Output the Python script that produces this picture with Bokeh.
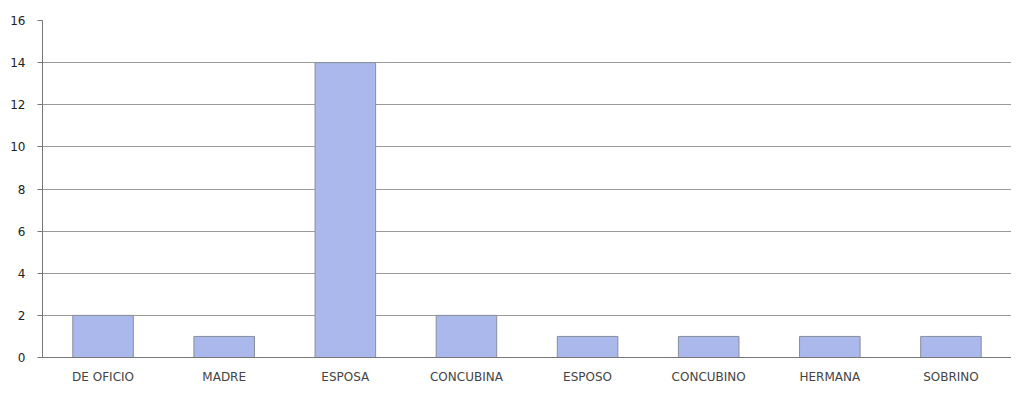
from bokeh.plotting import figure
from bokeh.models import ColumnDataSource, FactorRange, Range1d, FixedTicker
from bokeh.embed import file_html
from bokeh.resources import INLINE

categories = ["DE OFICIO", "MADRE", "ESPOSA", "CONCUBINA", "ESPOSO", "CONCUBINO", "HERMANA", "SOBRINO"]
values = [2, 1, 14, 2, 1, 1, 1, 1]
y_ticks = [0, 2, 4, 6, 8, 10, 12, 14, 16]

source = ColumnDataSource(data=dict(cat=categories, val=values))

p = figure(
    x_range=FactorRange(*categories, range_padding=0),
    y_range=Range1d(0, 16),
    width=1011, height=386,
    output_backend="svg", toolbar_location=None,
    min_border_left=42, min_border_right=0, min_border_top=20, min_border_bottom=10,
)
p.vbar(x="cat", top="val", width=0.5, source=source,
       fill_color="#aab8ec", line_color="#8a8f9c", line_width=1)

p.outline_line_color = None
p.background_fill_color = "white"
p.xgrid.grid_line_color = None
p.ygrid.grid_line_color = "#9a9a9a"
p.ygrid.grid_line_width = 1
p.yaxis.ticker = FixedTicker(ticks=y_ticks)
p.yaxis.axis_line_color = "#777777"
p.yaxis.major_tick_line_color = "#777777"
p.yaxis.major_tick_out = 5
p.yaxis.major_tick_in = 0
p.yaxis.minor_tick_line_color = None
p.yaxis.major_label_text_font = "DejaVu Sans"
p.yaxis.major_label_text_font_size = "12px"
p.yaxis.major_label_text_color = "#222222"
p.yaxis.major_label_standoff = 12

p.xaxis.axis_line_color = "#777777"
p.xaxis.major_tick_line_color = None
p.xaxis.major_tick_out = 0
p.xaxis.major_tick_in = 0
p.xaxis.major_label_text_font = "DejaVu Sans"
p.xaxis.major_label_text_font_size = "12px"
p.xaxis.major_label_text_color = "#444444"
p.xaxis.major_label_standoff = 12

open("out.html", "w").write(file_html(p, INLINE))
